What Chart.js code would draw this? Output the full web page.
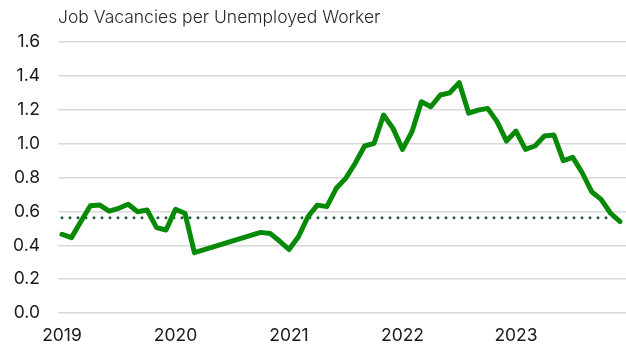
<!DOCTYPE html>
<html>
<head>
<meta charset="utf-8">
<script src="https://cdn.jsdelivr.net/npm/chart.js@4"></script>
<style>
  html, body { margin: 0; padding: 0; background: #fff; }
  #wrap { width: 626px; height: 349px; position: relative; }
</style>
</head>
<body>
<div id="wrap"><canvas id="vacancy-chart"></canvas></div>
<script>
// --- DATA ---
// monthly, Jan 2019 .. Dec 2023 (Apr-Sep 2020 not collected)
const years = ['2019', '2020', '2021', '2022', '2023'];
const ratio2019 = [0.465, 0.445, 0.54, 0.633, 0.637, 0.602, 0.618, 0.642, 0.598, 0.608, 0.504, 0.49];
const ratio2020 = [0.612, 0.589, 0.356, null, null, null, null, null, null, 0.476, 0.47, 0.425];
const ratio2021 = [0.375, 0.45, 0.568, 0.637, 0.628, 0.736, 0.795, 0.884, 0.986, 1.002, 1.169, 1.09];
const ratio2022 = [0.966, 1.07, 1.247, 1.218, 1.287, 1.30, 1.36, 1.18, 1.198, 1.208, 1.13, 1.015];
const ratio2023 = [1.074, 0.966, 0.986, 1.045, 1.051, 0.899, 0.919, 0.828, 0.716, 0.671, 0.589, 0.539];
const averageRatio = 0.563;
const yTicks = [0, 0.2, 0.4, 0.6, 0.8, 1.0, 1.2, 1.4, 1.6];

const ratios = [...ratio2019, ...ratio2020, ...ratio2021, ...ratio2022, ...ratio2023];
const seriesPoints = ratios.map((v, i) => ({ x: i, y: v }));
const avgPoints = [{ x: 0, y: averageRatio }, { x: ratios.length - 1, y: averageRatio }];

const FONT = 'Inter, "DejaVu Sans", sans-serif';

// title drawn flush with the plot's left edge
const titlePlugin = {
    id: 'leftTitle',
    afterDraw(chart) {
        const ctx = chart.ctx;
        ctx.save();
        ctx.font = '300 17.5px ' + FONT;
        ctx.fillStyle = '#262626';
        ctx.textBaseline = 'middle';
        ctx.fillText('Job Vacancies per Unemployed Worker', chart.chartArea.left, 18);
        ctx.restore();
    }
};

new Chart(document.getElementById('vacancy-chart'), {
    type: 'line',
    data: {
        datasets: [
            {
                label: 'Average',
                data: avgPoints,
                borderColor: '#1d5c3f',
                borderWidth: 3,
                borderDash: [0, 8],
                borderCapStyle: 'round',
                pointRadius: 0,
                order: 2
            },
            {
                label: 'Job vacancies per unemployed worker',
                data: seriesPoints,
                borderColor: '#078a07',
                borderWidth: 5,
                borderJoinStyle: 'round',
                borderCapStyle: 'round',
                pointRadius: 0,
                spanGaps: true,
                tension: 0,
                order: 1
            }
        ]
    },
    options: {
        responsive: true,
        maintainAspectRatio: false,
        animation: false,
        layout: { padding: { top: 42, right: 0, left: 0, bottom: 0 } },
        plugins: {
            legend: { display: false },
            tooltip: { enabled: false }
        },
        scales: {
            x: {
                type: 'linear',
                min: -0.42,
                max: 59.63,
                afterBuildTicks: (axis) => {
                    axis.ticks = years.map((y, i) => ({ value: i * 12 }));
                },
                afterFit: (axis) => { axis.height = 36; },
                grid: { display: false, drawTicks: false },
                border: { display: false },
                ticks: {
                    padding: 12,
                    color: '#1a1a1a',
                    font: { family: FONT, size: 17.5 },
                    maxRotation: 0,
                    callback: (v) => years[Math.round(v / 12)]
                }
            },
            y: {
                min: 0,
                max: 1.6,
                afterBuildTicks: (axis) => {
                    axis.ticks = yTicks.map(v => ({ value: v }));
                },
                afterFit: (axis) => { axis.width = 58; },
                grid: { color: '#d9d9d9', lineWidth: 1.5, drawTicks: false },
                border: { display: false },
                ticks: {
                    padding: 18,
                    color: '#1a1a1a',
                    font: { family: FONT, size: 17.5 },
                    callback: (v) => v.toFixed(1)
                }
            }
        }
    },
    plugins: [titlePlugin]
});
</script>
</body>
</html>
